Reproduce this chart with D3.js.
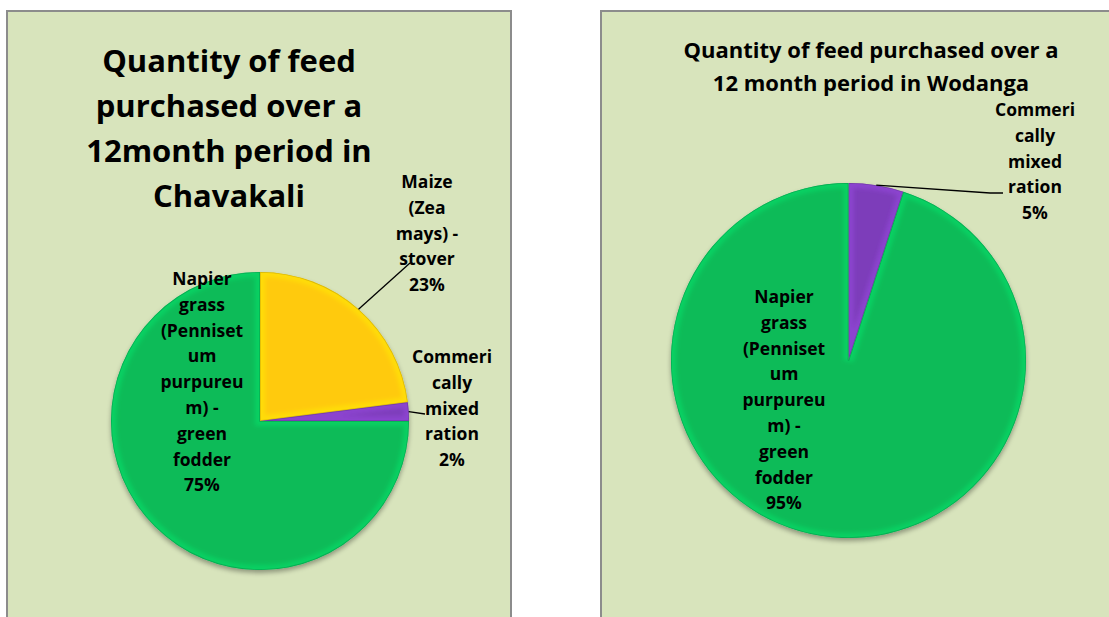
<!DOCTYPE html>
<html>
<head>
<meta charset="utf-8">
<script src="https://cdn.jsdelivr.net/npm/d3@7"></script>
<style>
  html, body { margin: 0; padding: 0; background: #ffffff; }
  svg { display: block; }
  text { font-family: "Open Sans", Lato, sans-serif; font-weight: bold; fill: #000; }
</style>
</head>
<body>
<div id="chart"></div>
<script>
var width = 1109,
    height = 617;

// ---- data ----
var chavakaliCategories = ["Maize (Zea mays) - stover", "Commerically mixed ration", "Napier grass (Pennisetum purpureum) - green fodder"];
var chavakaliValues = [23, 2, 75];
var chavakaliTitle = ["Quantity of feed", "purchased over a", "12month period in", "Chavakali"];
var chavakaliLabels = [
  ["Maize", "(Zea", "mays) -", "stover", "23%"],
  ["Commeri", "cally", "mixed", "ration", "2%"],
  ["Napier", "grass", "(Penniset", "um", "purpureu", "m) -", "green", "fodder", "75%"]
];

var wodangaCategories = ["Commerically mixed ration", "Napier grass (Pennisetum purpureum) - green fodder"];
var wodangaValues = [5, 95];
var wodangaTitle = ["Quantity of feed purchased over a", "12 month period in Wodanga"];
var wodangaLabels = [
  ["Commeri", "cally", "mixed", "ration", "5%"],
  ["Napier", "grass", "(Penniset", "um", "purpureu", "m) -", "green", "fodder", "95%"]
];

var colorOf = {
  "Maize (Zea mays) - stover": "#ffca08",
  "Commerically mixed ration": "#7d3dba",
  "Napier grass (Pennisetum purpureum) - green fodder": "#07bb58"
};

var svg = d3.select("#chart").append("svg")
  .attr("width", width)
  .attr("height", height);

var defs = svg.append("defs");
var shadow = defs.append("filter").attr("id", "shadow")
  .attr("x", "-10%").attr("y", "-10%").attr("width", "120%").attr("height", "125%");
shadow.append("feGaussianBlur").attr("in", "SourceAlpha").attr("stdDeviation", 2.5);
shadow.append("feOffset").attr("dx", 0).attr("dy", 3).attr("result", "b");
shadow.append("feComponentTransfer").append("feFuncA").attr("type", "linear").attr("slope", 0.35);
var merge = shadow.append("feMerge");
merge.append("feMergeNode");
merge.append("feMergeNode").attr("in", "SourceGraphic");

// soft blur for the bevel highlight
defs.append("filter").attr("id", "soft")
  .append("feGaussianBlur").attr("stdDeviation", 2);

function drawPanel(opt) {
  var g = svg.append("g");

  g.append("rect")
    .attr("x", opt.x).attr("y", opt.y)
    .attr("width", opt.w).attr("height", opt.h)
    .style("fill", "#d8e4bc")
    .style("stroke", "#8c8c8c")
    .style("stroke-width", 2);

  // title
  g.append("text")
    .attr("text-anchor", "middle")
    .style("font-size", opt.titleSize + "px")
    .selectAll("tspan")
    .data(opt.title)
    .enter()
    .append("tspan")
    .attr("x", opt.titleX)
    .attr("y", function(d, i) { return opt.titleY + i * opt.titleLead; })
    .text(function(d) { return d; });

  var pie = d3.pie().sort(null).value(function(d) { return d.value; });
  var arc = d3.arc().innerRadius(0).outerRadius(opt.r);

  var data = opt.categories.map(function(c, i) {
    return { cat: c, value: opt.values[i], lines: opt.labels[i] };
  });
  var arcs = pie(data);

  var pg = g.append("g")
    .attr("transform", "translate(" + opt.cx + "," + opt.cy + ")");

  pg.append("g").attr("filter", "url(#shadow)")
    .selectAll("path.slice")
    .data(arcs)
    .enter()
    .append("path")
    .attr("class", "slice")
    .attr("d", arc)
    .style("fill", function(d) { return colorOf[d.data.cat]; })
    .style("stroke", "none");

  // bevel: soft light inner band + thin darker rim, clipped to each slice
  arcs.forEach(function(d, i) {
    var id = opt.id + "-clip-" + i;
    defs.append("clipPath").attr("id", id)
      .append("path")
      .attr("d", arc(d));
    var c = colorOf[d.data.cat];
    var bg = pg.append("g").attr("clip-path", "url(#" + id + ")");
    bg.append("path")
      .attr("d", arc(d))
      .attr("filter", "url(#soft)")
      .style("fill", "none")
      .style("stroke", d3.color(c).brighter(0.8))
      .style("stroke-opacity", 0.35)
      .style("stroke-width", 10);
    bg.append("path")
      .attr("d", arc(d))
      .style("fill", "none")
      .style("stroke", d3.color(c).darker(1.2))
      .style("stroke-opacity", 0.4)
      .style("stroke-width", 1.5);
  });

  // labels
  arcs.forEach(function(d, i) {
    var lp = opt.labelPos[i];
    g.append("text")
      .attr("text-anchor", "middle")
      .style("font-size", opt.labelSize + "px")
      .selectAll("tspan")
      .data(d.data.lines)
      .enter()
      .append("tspan")
      .attr("x", lp.x)
      .attr("y", function(t, j) { return lp.y + j * opt.labelLead; })
      .text(function(t) { return t; });

    if (lp.leader) {
      var mid = (d.startAngle + d.endAngle) / 2;
      var p0 = [opt.cx + opt.r * Math.sin(mid), opt.cy - opt.r * Math.cos(mid)];
      g.append("path")
        .datum([p0].concat(lp.leader))
        .attr("d", d3.line())
        .style("fill", "none")
        .style("stroke", "#000")
        .style("stroke-width", 1.3);
    }
  });
}

drawPanel({
  id: "chav",
  x: 7, y: 11, w: 504, h: 630,
  title: chavakaliTitle, titleX: 229, titleY: 72, titleLead: 45, titleSize: 31,
  categories: chavakaliCategories, values: chavakaliValues, labels: chavakaliLabels,
  cx: 260, cy: 421, r: 149,
  labelSize: 17.5, labelLead: 25.8,
  labelPos: [
    { x: 427, y: 188, leader: [[410, 263]] },
    { x: 452, y: 363, leader: [[425, 414]] },
    { x: 202, y: 285 }
  ]
});

drawPanel({
  id: "woda",
  x: 601, y: 11, w: 520, h: 630,
  title: wodangaTitle, titleX: 871, titleY: 58, titleLead: 33, titleSize: 22,
  categories: wodangaCategories, values: wodangaValues, labels: wodangaLabels,
  cx: 848.5, cy: 360.5, r: 177.5,
  labelSize: 17.5, labelLead: 25.8,
  labelPos: [
    { x: 1035, y: 116, leader: [[990, 193], [1003, 193]] },
    { x: 784, y: 303 }
  ]
});
</script>
</body>
</html>
